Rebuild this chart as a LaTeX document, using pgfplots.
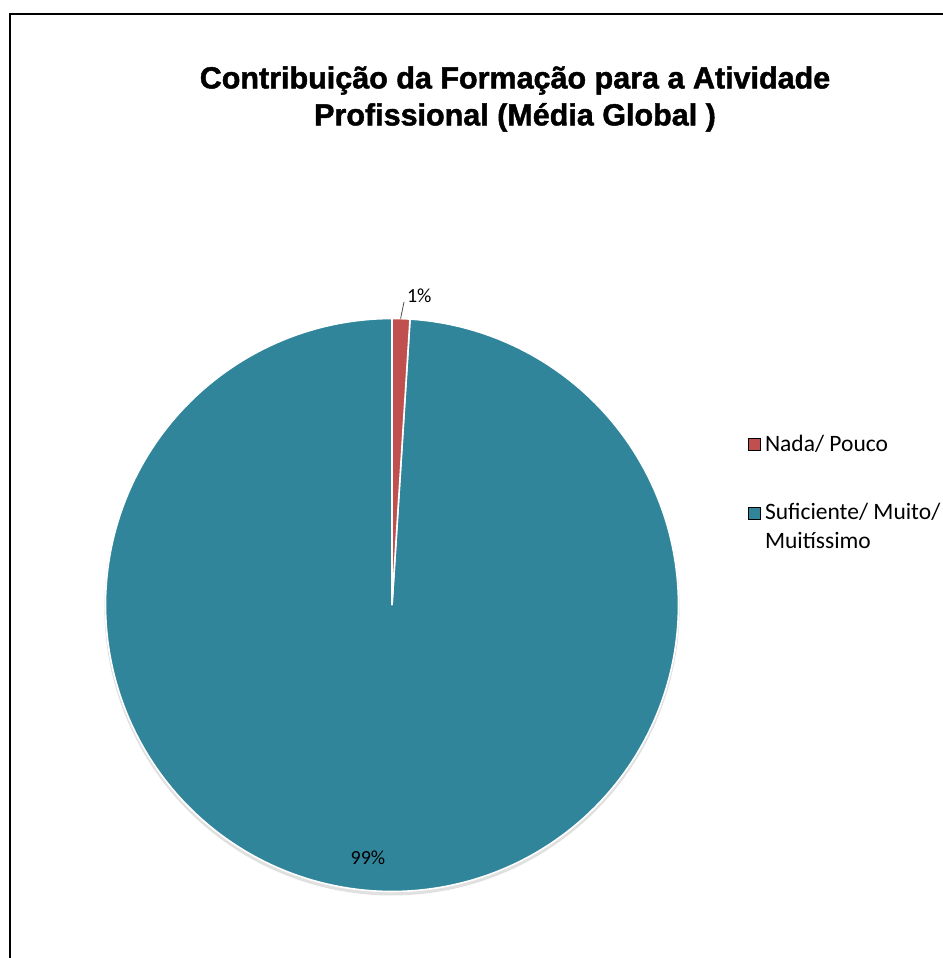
\documentclass[border=0pt]{standalone}
\usepackage{fontspec}
\setmainfont{Carlito}
\newfontfamily\titlefont{Liberation Sans}[BoldFeatures={FakeBold=1.5}]
\usepackage{pgfplots}
\usepackage{pgfplotstable}
\pgfplotsset{compat=1.18}
\definecolor{pieRed}{RGB}{192,80,77}
\definecolor{pieTeal}{RGB}{49,133,155}
\pgfplotsset{
  sqlegend/.style={legend image code/.code={\fill[##1] (-1pt,-3pt) rectangle (5pt,3pt);}},
  sqlegendup/.style={legend image code/.code={\fill[##1] (-1pt,4.25pt) rectangle (5pt,10.25pt);}}
}
\pgfplotstableread{
label value
Nada 1
Suficiente 99
}\piedata%
\pgfplotstablegetelem{0}{value}\of\piedata \let\vA\pgfplotsretval%
\pgfplotstablegetelem{1}{value}\of\piedata \let\vB\pgfplotsretval%
\pgfmathsetmacro\total{\vA+\vB}%
\pgfmathsetmacro\aA{90}%
\pgfmathsetmacro\aB{90-360*\vA/\total}%
\pgfmathsetmacro\aC{90-360}%
\begin{document}%
\begin{tikzpicture}
\begin{scope}[x=0.5pt,y=-0.5pt]
\draw[line width=0.9pt] (10,962) -- (10,14) -- (946,14);
\node[font=\titlefont\bfseries\fontsize{15.25}{18.5}\selectfont, align=center] at (515,99) {Contribuição da Formação para a Atividade\\Profissional (Média Global )};
\end{scope}
\begin{axis}[at={(196pt,-302.5pt)}, anchor=center, scale only axis,
  width=286.5pt, height=286.5pt, xmin=-1, xmax=1, ymin=-1, ymax=1,
  hide axis, clip=false,
  legend style={at={(axis cs:1.221,0.6225)}, anchor=north west, draw=none, fill=none,
    font=\fontsize{11.75}{14.5}\selectfont, row sep=20.5pt, cells={align=left}},
  legend cell align=left]
\addplot[fill=black!12, draw=none, domain=0:360, samples=180, variable=\t, forget plot]
  ({1.004*cos(\t)},{1.004*sin(\t)-0.01});
\addplot[fill=pieTeal, draw=white, line width=0.8pt, domain=\aC:\aB, samples=240, variable=\t, forget plot]
  ({cos(\t)},{sin(\t)}) -- (axis cs:0,0) -- cycle;
\addplot[fill=pieRed, draw=white, line width=0.8pt, domain=\aB:\aA, samples=10, variable=\t, forget plot]
  ({cos(\t)},{sin(\t)}) -- (axis cs:0,0) -- cycle;
\draw[black!70, line width=0.4pt] (axis cs:0.030,1.0) -- (axis cs:0.042,1.058);
\node[font=\fontsize{10}{12}\selectfont] at (axis cs:0.095,1.080) {1\%};
\node[font=\fontsize{10}{12}\selectfont] at (axis cs:-0.084,-0.882) {99\%};
\addlegendimage{fill=pieRed, sqlegend}
\addlegendentry{Nada/ Pouco}
\addlegendimage{fill=pieTeal, sqlegendup}
\addlegendentry{Suficiente/ Muito/\\Muitíssimo}
\end{axis}
\pgfresetboundingbox
\useasboundingbox (0pt,0pt) rectangle (471pt,-479pt);
\end{tikzpicture}%
\end{document}
